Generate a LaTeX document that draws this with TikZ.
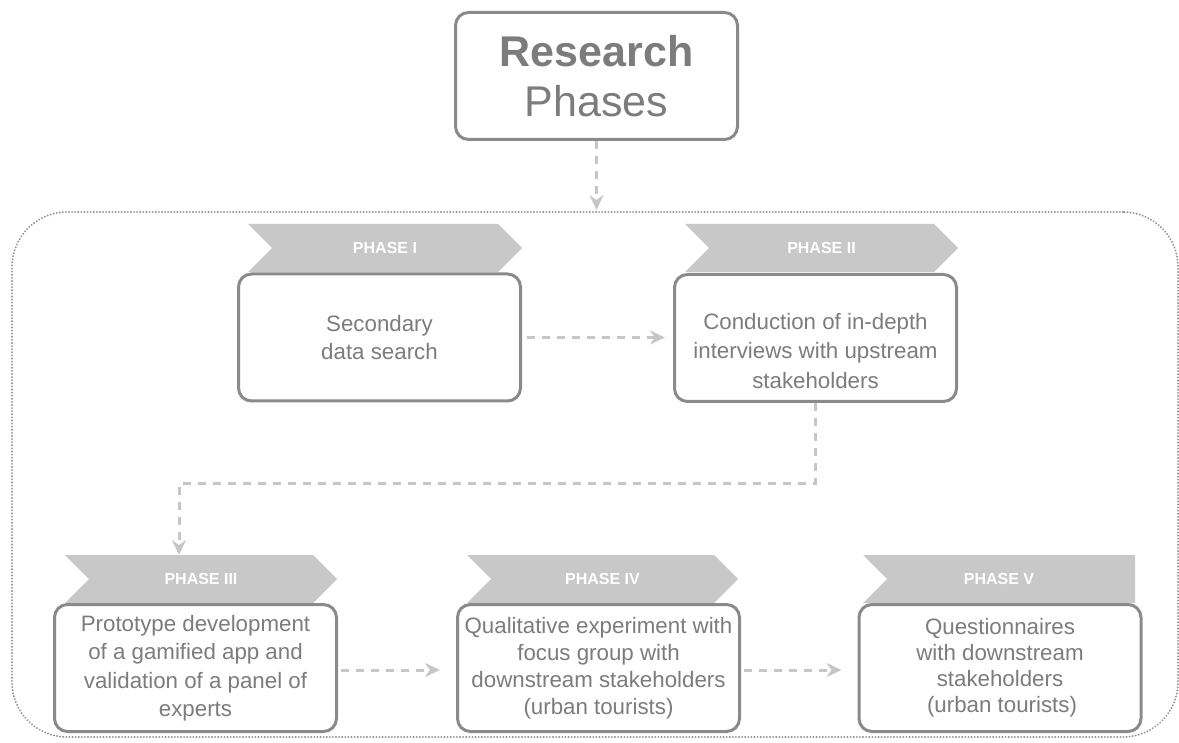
\documentclass[tikz,border=0pt]{standalone}
\usepackage{fontspec}
\setmainfont{Liberation Sans}
\usetikzlibrary{arrows.meta,calc}

\definecolor{boxline}{HTML}{8A8A8A}
\definecolor{boxtext}{HTML}{7C7C7C}
\definecolor{bannerfill}{HTML}{C8C8C8}
\definecolor{flowgray}{HTML}{C6C6C6}
\definecolor{framegray}{HTML}{8F8F8F}

\tikzset{
  stagebox/.style={draw=boxline, line width=3pt, rounded corners=13pt, fill=white,
    text=boxtext, align=center, font=\fontsize{22.3}{28}\selectfont,
    minimum width=282pt, minimum height=127pt, inner sep=0pt},
  stagetext/.style={text=boxtext, align=center, font=\fontsize{22.3}{29.5}\selectfont, inner sep=0pt},
  bannertext/.style={text=white, font=\bfseries\fontsize{16}{16}\selectfont, inner sep=0pt},
  flow/.style={draw=flowgray, line width=3pt, dash pattern=on 8pt off 7pt,
    -{Stealth[length=15pt,width=14pt,inset=5pt]}},
  outerframe/.style={draw=framegray, line width=2pt, dash pattern=on 0.1pt off 3pt,
    line cap=round, rounded corners=55pt}
}

% chevron-shaped phase banner: name, top y, left x, tip x, label
\newcommand\chevronbanner[5]{%
  \fill[bannerfill] (#3,#2) -- (#4-24,#2) -- (#4,#2+24) -- (#4-24,#2+48)
    -- (#3,#2+48) -- (#3+24,#2+24) -- cycle;
  \node[bannertext] (#1) at ({(#3+#4)/2},#2+24) {#5};
}

\begin{document}
\begin{tikzpicture}[x=1pt,y=-1pt]
\useasboundingbox (0,0) rectangle (1179,743);

% dotted frame around all phases
\node[outerframe, minimum width=1166pt, minimum height=525pt] (frame) at (595,474.5) {};

% phase banners
\chevronbanner{ph1}{224}{248}{522}{PHASE I}
\chevronbanner{ph2}{224}{685}{958}{PHASE II}
\chevronbanner{ph3}{555}{65}{337}{PHASE III}
\chevronbanner{ph4}{555}{467}{738}{PHASE IV}
\fill[bannerfill] (863,555) -- (1135,555) -- (1135,603) -- (863,603) -- (887,579) -- cycle;
\node[bannertext] (ph5) at (999,579) {PHASE V};

% title
\node[stagebox, font=\fontsize{43}{50}\selectfont] (title) at (596.5,76)
  {\textbf{Research}\\Phases};

% phase boxes
\node[stagebox] (b1) at (379.5,337.5) {Secondary\\data search};
\node[stagebox] (b2) at (815.5,338) {};
\node[stagetext] (t2) at (815.5,351) {Conduction of in-depth\\interviews with upstream\\stakeholders};
\node[stagebox, font=\fontsize{22.3}{28.5}\selectfont] (b3) at (195.5,668)
  {Prototype development\\of a gamified app and\\validation of a panel of\\experts};
\node[stagebox, font=\fontsize{22.3}{27}\selectfont] (b4) at (598.5,668)
  {Qualitative experiment with\\focus group with\\downstream stakeholders\\(urban tourists)};
\node[stagebox, font=\fontsize{22.3}{26}\selectfont] (b5) at (1000,668)
  {Questionnaires\\with downstream\\stakeholders\\\hspace*{4pt}(urban tourists)};

% connectors
\coordinate (in3) at (179,555);
\draw[flow, shorten >=1pt] (title.south) -- (title.south |- frame.north);
\draw[flow, shorten <=5pt, shorten >=8pt] (b1.east) -- (b1.east -| b2.west);
\draw[flow] (b2.south) -- ++(0,80) -| (in3);
\draw[flow, shorten <=3pt, shorten >=16pt] ($(b3.east)+(0,2)$) -- ($(b4.west)+(0,2)$);
\draw[flow, shorten <=3pt, shorten >=16pt] ($(b4.east)+(0,2)$) -- ($(b5.west)+(0,2)$);
\end{tikzpicture}
\end{document}
